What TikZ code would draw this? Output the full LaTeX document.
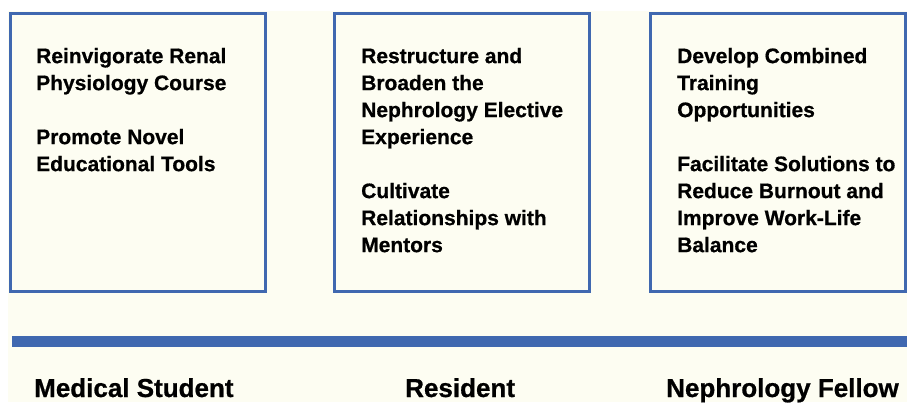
\documentclass[tikz,border=0pt]{standalone}
\usepackage{fontspec}
\setmainfont{Liberation Sans}[BoldFeatures={FakeBold=0.7}]
\definecolor{cream}{HTML}{FDFDF2}
\definecolor{rblue}{HTML}{4068B0}
\begin{document}
\begin{tikzpicture}[x=1pt,y=-1pt,
  goalbox/.style={draw=rblue,line width=3pt,fill=cream},
  goaltext/.style={anchor=north west,inner sep=0pt,align=left,
    font=\fontsize{21}{27}\selectfont\bfseries},
  stagelabel/.style={anchor=base west,inner sep=0pt,
    font=\fontsize{26}{30}\selectfont\bfseries}]
\useasboundingbox (0,0) rectangle (907,402);
\fill[white] (0,0) rectangle (907,402);
\fill[cream] (8,11) rectangle (907,402);
\draw[goalbox] (10,13) rectangle (265,291);
\draw[goalbox] (334.5,13) rectangle (589.5,291);
\draw[goalbox] (650.5,13) rectangle (905.5,291);
\node[goaltext] (t1) at (36,47.7) {Reinvigorate Renal\\Physiology Course\\[27pt]Promote Novel\\Educational Tools};
\node[goaltext] (t2) at (361,47.7) {Restructure and\\Broaden the\\Nephrology Elective\\Experience\\[27pt]Cultivate\\Relationships with\\Mentors};
\node[goaltext] (t3) at (677,47.7) {Develop Combined\\Training\\Opportunities\\[27pt]Facilitate Solutions to\\Reduce Burnout and\\Improve Work-Life\\Balance};
\fill[rblue] (12,336) rectangle (907,347);
\node[stagelabel] (s1) at (34,397) {Medical Student};
\node[stagelabel] (s2) at (405,397) {Resident};
\node[stagelabel] (s3) at (666,397) {Nephrology Fellow};
\end{tikzpicture}
\end{document}
